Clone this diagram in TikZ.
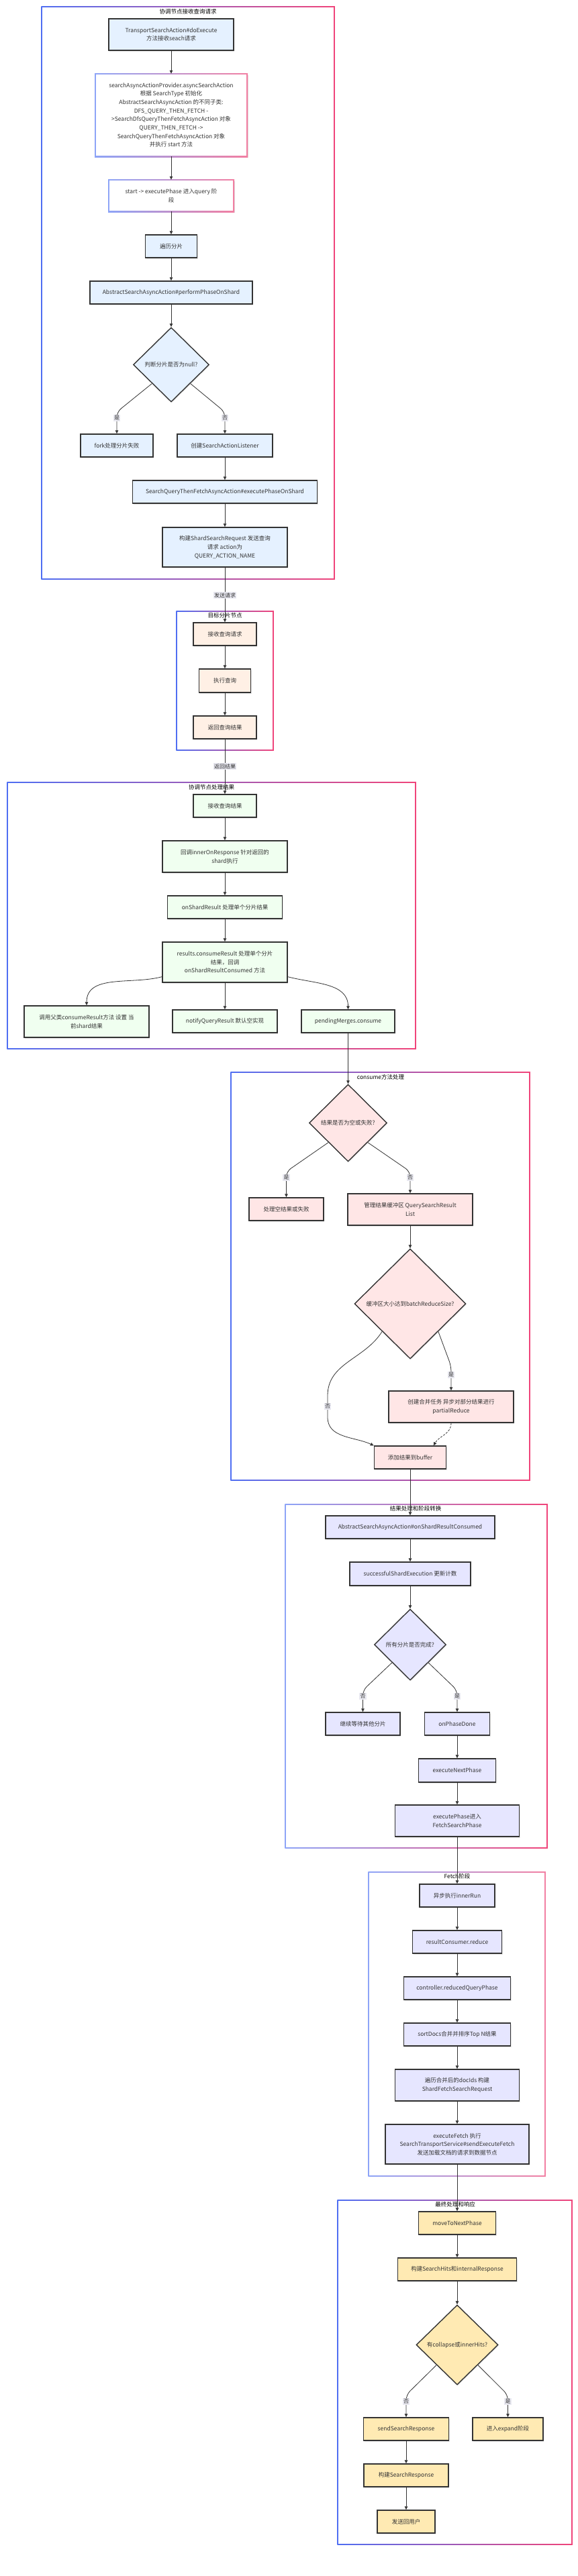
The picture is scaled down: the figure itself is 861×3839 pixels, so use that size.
\documentclass[tikz,border=0pt]{standalone}
\usepackage{fontspec}
\setmainfont{Noto Sans CJK SC}
\usetikzlibrary{shapes.geometric,arrows.meta,shadows}
\definecolor{nb}{HTML}{333333}
\definecolor{txt}{HTML}{333333}
\definecolor{cblue}{HTML}{E5F1FF}
\definecolor{corange}{HTML}{FFF0E5}
\definecolor{cgreen}{HTML}{F0FFF0}
\definecolor{cpinkf}{HTML}{FFE6E6}
\definecolor{clav}{HTML}{E6E6FF}
\definecolor{cyel}{HTML}{FFEAB3}
\definecolor{gblue}{HTML}{4F6EF2}
\definecolor{gpink}{HTML}{F0447A}
\definecolor{lgblue}{HTML}{8DA4F7}
\definecolor{lgpink}{HTML}{F27FA2}
\definecolor{lblbg}{HTML}{E8E8F0}
\definecolor{edgec}{HTML}{333333}
\newcommand{\gframe}[7]{%
  \shade[left color=#6, right color=#7] (#1-#5/2,-#2+#5/2) rectangle (#3+#5/2,-#4-#5/2);
  \fill[white] (#1+#5/2,-#2-#5/2) rectangle (#3-#5/2,-#4+#5/2);}
\begin{document}
\begin{tikzpicture}[x=1pt,y=1pt,
  font=\fontsize{8.5}{12.7}\selectfont,
  box/.style={rectangle, draw=nb, line width=1.5pt, text=txt, align=center, inner sep=2pt,
    drop shadow={opacity=0.18, shadow xshift=1pt, shadow yshift=-1.5pt}},
  plain/.style={rectangle, text=txt, align=center, inner sep=2pt},
  dia/.style={diamond, draw=nb, line width=1.4pt, inner sep=0pt,
    drop shadow={opacity=0.18, shadow xshift=1pt, shadow yshift=-1.5pt}},
  dtext/.style={text=txt, align=center, inner sep=0pt},
  arr/.style={draw=edgec, line width=0.8pt, -{Triangle[length=5pt,width=4.5pt]}},
  lbl/.style={fill=lblbg, inner sep=1.3pt, text=txt, font=\fontsize{8}{9}\selectfont},
  ctitle/.style={text=black, inner sep=0pt, font=\fontsize{8.5}{10}\selectfont}]
\useasboundingbox (0,0) rectangle (861,-3839);
\fill[white] (0,0) rectangle (861,-3839);

% clusters
\gframe{62}{10}{498}{863}{1.5}{gblue}{gpink}
\gframe{263}{911}{407}{1118}{1.5}{gblue}{gpink}
\gframe{11}{1166}{619}{1563}{1.5}{gblue}{gpink}
\gframe{344}{1598}{789}{2206}{1.5}{gblue}{gpink}
\gframe{425}{2242}{815}{2754}{1.5}{lgblue}{gpink}
\gframe{549}{2790}{812}{3243}{1.5}{lgblue}{lgpink}
\gframe{503}{3279}{852}{3792}{1.5}{gblue}{gpink}

\node[ctitle] (t1) at (280,-17) {协调节点接收查询请求};
\node[ctitle] (t2) at (335,-917) {目标分片节点};
\node[ctitle] (t3) at (315,-1173) {协调节点处理结果};
\node[ctitle] (t4) at (567,-1605) {consume方法处理};
\node[ctitle] (t5) at (619,-2248) {结果处理和阶段转换};
\node[ctitle] (t6) at (681,-2796) {Fetch阶段};
\node[ctitle] (t7) at (678,-3285) {最终处理和响应};

% cluster 1
\node[box, fill=cblue, minimum width=186pt, minimum height=47pt] (A) at (255,-51.5) {TransportSearchAction\#doExecute\\方法接收seach请求};
\fill[black, opacity=0.12] (143,-111.5) rectangle (370,-235);
\gframe{142}{110}{368}{233}{2}{lgblue}{lgpink}
\node[plain, minimum width=226pt, minimum height=123pt] (B) at (255,-171.5) {searchAsyncActionProvider.asyncSearchAction\\根据 SearchType 初始化\\AbstractSearchAsyncAction 的不同子类:\\DFS\_QUERY\_THEN\_FETCH -\\>SearchDfsQueryThenFetchAsyncAction 对象\\QUERY\_THEN\_FETCH ->\\SearchQueryThenFetchAsyncAction 对象\\并执行 start 方法};
\fill[black, opacity=0.12] (163,-269.5) rectangle (350,-317);
\gframe{162}{268}{348}{315}{2}{lgblue}{lgpink}
\node[plain, minimum width=186pt, minimum height=47pt] (C) at (255,-291.5) {start -> executePhase 进入query 阶\\段};
\node[box, fill=cblue, minimum width=77pt, minimum height=34pt] (D) at (255,-367) {遍历分片};
\node[box, fill=cblue, minimum width=242pt, minimum height=34pt] (E) at (255,-436) {AbstractSearchAsyncAction\#performPhaseOnShard};
\node[dia, fill=cblue, minimum width=113pt, minimum height=111pt] (F) at (255,-543.5) {};
\node[dtext] (Ft) at (F.center) {判断分片是否为null?};
\node[box, fill=cblue, minimum width=108pt, minimum height=34pt] (G) at (174,-664) {fork处理分片失败};
\node[box, fill=cblue, minimum width=142pt, minimum height=34pt] (H) at (335,-664) {创建SearchActionListener};
\node[box, fill=cblue, minimum width=275pt, minimum height=34pt] (I) at (335,-733) {SearchQueryThenFetchAsyncAction\#executePhaseOnShard};
\node[box, fill=cblue, minimum width=186pt, minimum height=59pt] (J) at (335,-815.5) {构建ShardSearchRequest 发送查询\\请求 action为\\QUERY\_ACTION\_NAME};

% cluster 2
\node[box, fill=corange, minimum width=94pt, minimum height=34pt] (K) at (335,-945) {接收查询请求};
\node[box, fill=corange, minimum width=77pt, minimum height=35pt] (L) at (335,-1014.5) {执行查询};
\node[box, fill=corange, minimum width=94pt, minimum height=34pt] (M) at (335,-1084) {返回查询结果};

% cluster 3
\node[box, fill=cgreen, minimum width=94pt, minimum height=34pt] (N) at (335,-1201) {接收查询结果};
\node[box, fill=cgreen, minimum width=186pt, minimum height=47pt] (O) at (335,-1276.5) {回调innerOnResponse 针对返回的\\shard执行};
\node[box, fill=cgreen, minimum width=171pt, minimum height=34pt] (P) at (335,-1352) {onShardResult 处理单个分片结果};
\node[box, fill=cgreen, minimum width=186pt, minimum height=60pt] (Q) at (335,-1434) {results.consumeResult 处理单个分片\\结果，回调\\onShardResultConsumed 方法};
\node[box, fill=cgreen, minimum width=186pt, minimum height=47pt] (R) at (129,-1522.5) {调用父类consumeResult方法 设置 当\\前shard结果};
\node[box, fill=cgreen, minimum width=156pt, minimum height=34pt] (S) at (335,-1522) {notifyQueryResult 默认空实现};
\node[box, fill=cgreen, minimum width=139pt, minimum height=34pt] (T) at (518.5,-1522) {pendingMerges.consume};

% cluster 4
\node[dia, fill=cpinkf, minimum width=116pt, minimum height=115pt] (U) at (518.5,-1673.5) {};
\node[dtext] (Ut) at (U.center) {结果是否为空或失败?};
\node[box, fill=cpinkf, minimum width=111pt, minimum height=34pt] (V) at (426.5,-1802) {处理空结果或失败};
\node[box, fill=cpinkf, minimum width=186pt, minimum height=47pt] (W) at (611,-1802.5) {管理结果缓冲区 QuerySearchResult\\List};
\node[dia, fill=cpinkf, minimum width=166pt, minimum height=164pt] (X) at (611,-1943) {};
\node[dtext] (Xt) at (X.center) {缓冲区大小达到batchReduceSize?};
\node[box, fill=cpinkf, minimum width=186pt, minimum height=47pt] (Y) at (672,-2096.5) {创建合并任务 异步对部分结果进行\\partialReduce};
\node[box, fill=cpinkf, minimum width=107pt, minimum height=34pt] (Z) at (611,-2172) {添加结果到buffer};

% cluster 5
\node[box, fill=clav, minimum width=252pt, minimum height=34pt] (AA) at (611,-2276) {AbstractSearchAsyncAction\#onShardResultConsumed};
\node[box, fill=clav, minimum width=180pt, minimum height=35pt] (AB) at (611,-2345.5) {successfulShardExecution 更新计数};
\node[dia, fill=clav, minimum width=107pt, minimum height=106pt] (AC) at (611,-2451) {};
\node[dtext] (ACt) at (AC.center) {所有分片是否完成?};
\node[box, fill=clav, minimum width=111pt, minimum height=34pt] (AD) at (540.5,-2569) {继续等待其他分片};
\node[box, fill=clav, minimum width=97pt, minimum height=34pt] (AE) at (681,-2569) {onPhaseDone};
\node[box, fill=clav, minimum width=115pt, minimum height=35pt] (AF) at (681,-2638.5) {executeNextPhase};
\node[box, fill=clav, minimum width=185pt, minimum height=47pt] (AG) at (681,-2713.5) {executePhase进入\\FetchSearchPhase};

% cluster 6
\node[box, fill=clav, minimum width=112pt, minimum height=34pt] (AH) at (681,-2825) {异步执行innerRun};
\node[box, fill=clav, minimum width=133pt, minimum height=34pt] (AI) at (681,-2894) {resultConsumer.reduce};
\node[box, fill=clav, minimum width=159pt, minimum height=34pt] (AJ) at (681,-2963) {controller.reducedQueryPhase};
\node[box, fill=clav, minimum width=159pt, minimum height=34pt] (AK) at (681,-3032) {sortDocs合并并排序Top N结果};
\node[box, fill=clav, minimum width=185pt, minimum height=47pt] (AL) at (681,-3107.5) {遍历合并后的docIds 构建\\ShardFetchSearchRequest};
\node[box, fill=clav, minimum width=214pt, minimum height=59pt] (AM) at (681,-3195.5) {executeFetch 执行\\SearchTransportService\#sendExecuteFetch\\发送加载文档的请求到数据节点};

% cluster 7
\node[box, fill=cyel, minimum width=115pt, minimum height=34pt] (AN) at (681,-3313) {moveToNextPhase};
\node[box, fill=cyel, minimum width=177pt, minimum height=34pt] (AO) at (681,-3382) {构建SearchHits和internalResponse};
\node[dia, fill=cyel, minimum width=122pt, minimum height=119pt] (AP) at (681,-3494.5) {};
\node[dtext] (APt) at (AP.center) {有collapse或innerHits?};
\node[box, fill=cyel, minimum width=127pt, minimum height=34pt] (AQ) at (605,-3620) {sendSearchResponse};
\node[box, fill=cyel, minimum width=105pt, minimum height=34pt] (AR) at (756.5,-3620) {进入expand阶段};
\node[box, fill=cyel, minimum width=126pt, minimum height=34pt] (AS) at (605,-3689) {构建SearchResponse};
\node[box, fill=cyel, minimum width=86pt, minimum height=34pt] (AT) at (605,-3758) {发送回用户};

% straight edges
\foreach \a/\b in {A/B,B/C,C/D,D/E,E/F,H/I,I/J,J/K,K/L,L/M,M/N,N/O,O/P,P/Q,Q/S,T/U,W/X,Z/AA,AA/AB,AB/AC,AE/AF,AF/AG,AG/AH,AH/AI,AI/AJ,AJ/AK,AK/AL,AL/AM,AM/AN,AN/AO,AO/AP,AQ/AS,AS/AT}
  \draw[arr] (\a) -- (\b);

% branch edges
\draw[arr, rounded corners=8pt] (F.south west) -- (174,-614) -- (G.north);
\draw[arr, rounded corners=8pt] (F.south east) -- (335,-614) -- (H.north);
\draw[arr] (Q.193) to[out=195,in=90] (R.north);
\draw[arr] (Q.-13) to[out=-15,in=90] (T.north);
\draw[arr, rounded corners=8pt] (U.south west) -- (426.5,-1746) -- (V.north);
\draw[arr, rounded corners=8pt] (U.south east) -- (611,-1746) -- (W.north);
\draw[arr, rounded corners=8pt] (X.south east) -- (672,-2036) -- (Y.north);
\draw[arr] (X.south west) to[out=238,in=90] (488,-2080) -- (488,-2112) to[out=270,in=155] (Z.north west);
\draw[arr, dash pattern=on 3pt off 2pt] (Y.south) to[out=270,in=60] (Z.27);
\draw[arr, rounded corners=8pt] (AC.south west) -- (540.5,-2519) -- (AD.north);
\draw[arr, rounded corners=8pt] (AC.south east) -- (681,-2519) -- (AE.north);
\draw[arr, rounded corners=8pt] (AP.south west) -- (605,-3569) -- (AQ.north);
\draw[arr, rounded corners=8pt] (AP.south east) -- (756.5,-3569) -- (AR.north);

% edge labels
\node[lbl] (l1) at (335,-887) {发送请求};
\node[lbl] (l2) at (335,-1142) {返回结果};
\node[lbl] (lF1) at (174,-623) {是};
\node[lbl] (lF2) at (335,-623) {否};
\node[lbl] (lU1) at (426.5,-1755) {是};
\node[lbl] (lU2) at (611,-1755) {否};
\node[lbl] (lX1) at (488,-2096) {否};
\node[lbl] (lX2) at (672,-2049) {是};
\node[lbl] (lAC1) at (540.5,-2528) {否};
\node[lbl] (lAC2) at (681,-2528) {是};
\node[lbl] (lAP1) at (605,-3579) {否};
\node[lbl] (lAP2) at (756.5,-3579) {是};
\end{tikzpicture}
\end{document}
